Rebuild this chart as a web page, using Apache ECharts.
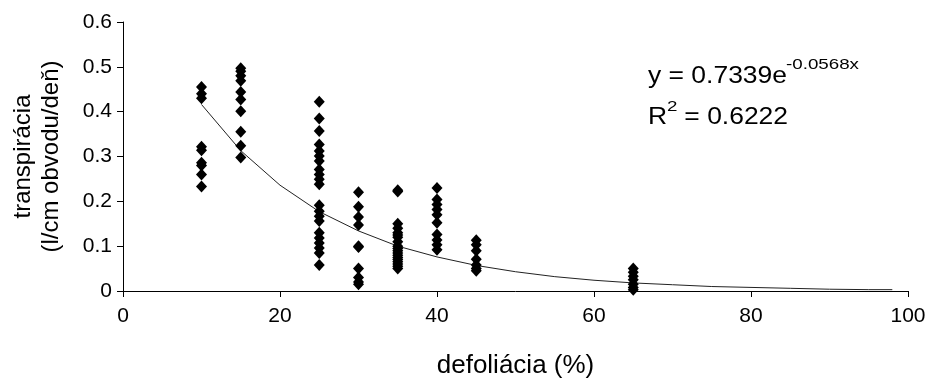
<!DOCTYPE html>
<html><head><meta charset="utf-8">
<script src="https://cdn.jsdelivr.net/npm/echarts@6/dist/echarts.min.js"></script>
<style>html,body{margin:0;padding:0;background:#fff}#c{width:929px;height:378px}</style>
</head><body><div id="c"></div>
<script>
// Data
const xTicks = [0, 20, 40, 60, 80, 100];
const yTicks = [0, 0.1, 0.2, 0.3, 0.4, 0.5, 0.6];
const defoliationLevels = [10, 15, 25, 30, 35, 40, 45, 65];
const transp10 = [0.455, 0.44, 0.43, 0.322, 0.314, 0.286, 0.28, 0.26, 0.233];
const transp15 = [0.497, 0.49, 0.48, 0.469, 0.444, 0.427, 0.401, 0.355, 0.324, 0.298];
const transp25 = [0.422, 0.385, 0.357, 0.327, 0.312, 0.301, 0.29, 0.271, 0.26, 0.249, 0.238,
                  0.191, 0.178, 0.167, 0.156, 0.13, 0.118, 0.107, 0.096, 0.085, 0.058];
const transp30 = [0.22, 0.188, 0.165, 0.147, 0.10, 0.098, 0.05, 0.03, 0.02, 0.015];
const transp35 = [0.225, 0.222, 0.15, 0.14, 0.13, 0.125, 0.12, 0.11, 0.10, 0.095, 0.09, 0.085,
                  0.08, 0.075, 0.07, 0.065, 0.06, 0.055, 0.05];
const transp40 = [0.23, 0.204, 0.193, 0.182, 0.17, 0.152, 0.126, 0.114, 0.103, 0.092];
const transp45 = [0.113, 0.103, 0.09, 0.071, 0.058, 0.05, 0.045];
const transp65 = [0.05, 0.042, 0.033, 0.025, 0.015, 0.008, 0.003];
const trendX = [10, 15, 20, 25, 30, 35, 40, 45, 50, 55, 60, 65, 70, 75, 80, 85, 90, 95, 98];
const trendY = [0.416, 0.313, 0.236, 0.177, 0.134, 0.100, 0.076, 0.057, 0.043, 0.032, 0.024,
                0.018, 0.014, 0.010, 0.008, 0.006, 0.004, 0.003, 0.003];
const xName = 'defoliácia (%)';
const yName = 'transpirácia\n(l/cm obvodu/deň)';
const eqMain = 'y = 0.7339e';
const eqSup = '-0.0568x';
const r2Main = 'R';
const r2Sup = '2';
const r2Rest = ' = 0.6222';

const columns = [transp10, transp15, transp25, transp30, transp35, transp40, transp45, transp65];
const points = [];
columns.forEach((vals, i) => vals.forEach(v => points.push([defoliationLevels[i], v])));
const trend = trendX.map((x, i) => [x, trendY[i]]);

const FONT = 'Liberation Sans, Arial, sans-serif';
const txt = (x, y, text, size, sx) => ({
  type: 'text', x: x, y: y, scaleX: sx, scaleY: 1, silent: true,
  style: {text: text, font: size + 'px ' + FONT, fill: '#000', align: 'left', verticalAlign: 'middle'}
});

const chart = echarts.init(document.getElementById('c'), null, {renderer: 'canvas'});
chart.setOption({
  animation: false,
  backgroundColor: '#fff',
  grid: {left: 123, right: 21, top: 22, bottom: 87, containLabel: false, outerBoundsMode: 'none'},
  xAxis: {
    type: 'value', min: xTicks[0], max: xTicks[xTicks.length - 1], interval: 20,
    name: xName, nameLocation: 'middle', nameGap: 62,
    nameTextStyle: {fontFamily: FONT, fontSize: 26, color: '#000'},
    axisLine: {show: true, onZero: false, lineStyle: {color: '#000', width: 1}},
    axisTick: {show: true, inside: false, length: 6, lineStyle: {color: '#000'}},
    axisLabel: {fontFamily: FONT, fontSize: 21, color: '#000', margin: 15},
    splitLine: {show: false}
  },
  yAxis: {
    type: 'value', min: yTicks[0], max: yTicks[yTicks.length - 1], interval: 0.1,
    name: yName, nameLocation: 'middle', nameGap: 58, nameRotate: 90,
    nameTextStyle: {fontFamily: FONT, fontSize: 24, color: '#000', lineHeight: 28},
    axisLine: {show: true, onZero: false, lineStyle: {color: '#000', width: 1}},
    axisTick: {show: true, inside: false, length: 6, lineStyle: {color: '#000'}},
    axisLabel: {fontFamily: FONT, fontSize: 21, color: '#000', margin: 11,
      formatter: v => (Math.round(v * 10) / 10).toString()},
    splitLine: {show: false}
  },
  series: [
    {type: 'line', data: trend, showSymbol: false, smooth: false,
     lineStyle: {color: '#222', width: 1}, z: 1, silent: true},
    {type: 'scatter', data: points, symbol: 'diamond', symbolSize: [11, 12],
     itemStyle: {color: '#000', opacity: 1}, z: 2}
  ],
  graphic: [
    txt(648, 77, eqMain, 23, 1.15),
    txt(786, 65, eqSup, 15, 1.25),
    txt(648, 118, r2Main, 23, 1.15),
    txt(667, 107, r2Sup, 15, 1.25),
    txt(677, 118, r2Rest, 23, 1.15)
  ]
});
</script></body></html>
